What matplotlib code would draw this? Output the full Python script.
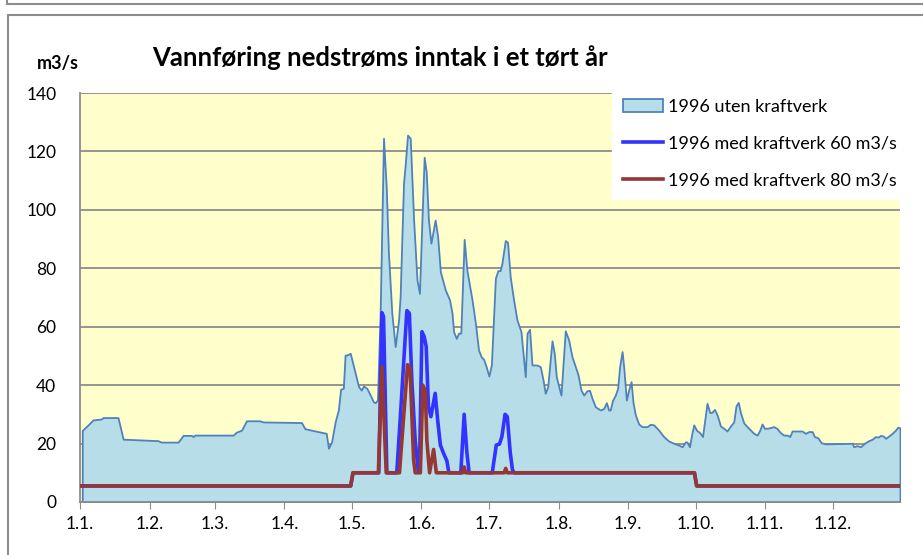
import matplotlib.pyplot as plt
from matplotlib.patches import Rectangle
from matplotlib.lines import Line2D

# day of year (0 = 1. jan 1996) and flow in m3/s
nat_days = [1, 3.6, 5.8, 9.5, 10.2, 16.9, 17.7, 19.2, 34.7, 36.2, 43.7, 45.9, 49.6, 50.3, 51.1,
            68.2, 69.6, 71.9, 74.1, 80, 81.5, 98.6, 100.1, 103, 108.4, 109.6, 110.6, 112, 113.6,
            115, 116, 117.2, 118, 118.8, 120.3, 122.5, 124, 125.2, 126.2, 127.7, 129.2, 130.6,
            131.4, 132.4, 133.6, 135.1, 136.3, 137.3, 138.8, 140.3, 141.8, 142.5, 144, 144.8,
            145.8, 147, 148.5, 150, 151.1, 152.2, 153.2, 154.1, 155.1, 156.2, 158.1, 159.2,
            160.4, 162.6, 164.5, 165.6, 166.3, 167.5, 168.5, 169.5, 171, 172.2, 174.5, 176,
            177.4, 178.6, 179.7, 180.8, 182, 183.1, 184.9, 186, 187, 187.8, 189.3, 190.3, 191.5,
            193, 194.5, 196.3, 197.2, 198.2, 199, 200.1, 201.2, 203.4, 204.9, 206.1, 207.1,
            208.2, 210.1, 211.1, 212, 213.1, 214.1, 216, 217.5, 219, 220.5, 221.7, 223, 224.2,
            225.7, 226.8, 227.9, 229.4, 231.6, 233.1, 234.3, 235.3, 236, 237.1, 238.3, 239.3,
            240.2, 241.3, 242, 243.2, 244.2, 245.3, 246.2, 247.2, 248.7, 250.2, 252.4, 253.9,
            255.4, 257.6, 259.8, 262, 264.3, 266.5, 268, 269.5, 270.2, 271.3, 272.2, 273.2,
            274.4, 275.9, 277.1, 279.1, 280.3, 281.3, 282.4, 283.6, 285.1, 286.6, 288, 289.5,
            291, 292, 293, 294, 295.5, 297.7, 299.9, 301.4, 302.6, 303.6, 304.7, 306.4, 308.8,
            310.2, 311.8, 313.3, 314.8, 315.9, 317, 321.4, 322.9, 324.4, 325.9, 326.9, 328.4,
            329.9, 331.8, 343.7, 344.4, 345.9, 347.4, 349.2, 351.1, 352.6, 354.1, 355.3, 356.3,
            357.5, 358.6, 360, 361.5, 363, 364, 365]
nat_flow = [24.5, 26.4, 28.1, 28.4, 28.9, 28.9, 26.4, 21.5, 21.0, 20.5, 20.5, 22.8, 22.8, 22.4, 22.9,
            22.9, 23.9, 24.6, 27.8, 27.8, 27.4, 27.2, 25.1, 24.6, 23.7, 23.5, 18.4, 20.6, 27.5,
            31.5, 38.6, 38.9, 50.3, 50.3, 50.9, 44.1, 39.5, 38.3, 39.7, 38.9, 36.6, 34.3,
            34.0, 34.9, 64.6, 124.5, 108, 85.1, 64.6, 53.2, 62.3, 70.3, 109, 116,
            125.6, 124.5, 96.5, 76, 71.4, 96.5, 118, 113.1, 96.5, 88.6, 96.5, 90.8,
            78.8, 72.6, 69.2, 64.6, 58.3, 56, 57.8, 57.8, 89.9, 79.4, 69.2, 61.2,
            52.0, 49.7, 48.8, 46.3, 43.1, 46.9, 76.6, 79.2, 79.2, 81.7, 89.5, 88.9, 77.1,
            69.2, 62.3, 58.3, 50.9, 42.9, 57.8, 59.1, 46.9, 46.9, 46.3, 41.8, 37.2,
            39.5, 55.2, 50.9, 42.9, 39.5, 36.6, 58.6, 55.5, 49.7, 46.3, 43.5, 38.3, 36.6,
            38.1, 38.2, 35.5, 32.6, 31.5, 32.0, 34.0, 31.5, 31.5, 34.9, 36.6, 38.9,
            46.3, 51.5, 46.3, 34.9, 38.3, 41.2, 33.8, 29.8, 26.7, 25.8, 25.8, 26.6,
            26.4, 24.6, 22.4, 20.9, 20.1, 19.5, 18.9, 20.6, 20.5, 18.9, 22.9, 26.4,
            24.6, 23.7, 22.4, 33.8, 30.6, 30.7, 31.7, 29.8, 26, 25.2, 24.3, 26,
            27.4, 32.9, 34.1, 30.5, 27, 25.2, 23.5, 22.9, 24.6, 26.7, 25.2, 25.3, 25.8,
            25.2, 23.7, 22.9, 22.9, 22.4, 24.3, 24.3, 23.5, 24.1, 24.1, 22.4, 22,
            20.3, 19.9, 20.1, 18.9, 19.3, 18.9, 20.1, 21, 21.5, 22.4, 22.2, 22.8,
            22.6, 21.8, 22.6, 23.5, 24.6, 25.6, 25.4]

q60_days = [0, 120.5, 121.5, 133, 134.4, 135.1, 136.6, 141, 142.5, 145.5, 146.6, 147.7, 149.2,
            150.5, 151.1, 152.2, 153.2, 154.1, 155.1, 156.2, 158.1, 159.2, 160.4, 161.8, 163.3,
            164.2, 169.5, 171, 172.2, 173.2, 183.5, 185.3, 186.7, 187.8, 189.2, 190.2, 191.5,
            192.5, 193.3, 273.5, 274.5, 365]
q60_flow = [5.5, 5.5, 10, 10, 64.8, 63.5, 10, 10, 28, 65.5, 64.6, 41.8, 21.2,
            11, 11.5, 58.3, 56.6, 53.2, 32.6, 29.2, 37.2, 28.1, 19.5, 16.7, 14.1,
            10, 10, 30, 17, 10, 10, 19.5, 19.8, 22.4, 30, 29.2, 17,
            11, 10, 10, 5.5, 5.5]

q80_days = [0, 120.5, 121.5, 132.8, 134.4, 136.3, 142.2, 145.8, 146.9, 148.5, 149.2, 151.5, 152.6,
            153.7, 154.4, 155.6, 157.4, 158.6, 170.3, 171, 171.7, 188.8, 189.5, 190.2, 273.5,
            274.5, 365]
q80_flow = [5.5, 5.5, 10, 10, 46.3, 10, 10, 47, 46, 14.4, 10, 10, 40,
            38, 21, 10, 18, 10, 10, 12, 10, 10, 11.5, 10, 10,
            5.5, 5.5]

month_days = [0, 31, 60, 91, 121, 152, 182, 213, 244, 274, 305, 335]
month_labels = ['1.1.', '1.2.', '1.3.', '1.4.', '1.5.', '1.6.', '1.7.', '1.8.', '1.9.', '1.10.', '1.11.', '1.12.']

plt.rcParams['font.family'] = ['Lato', 'DejaVu Sans']
grey = '#8c8c8c'

fig = plt.figure(figsize=(9.23, 5.55), dpi=100)
# frames around the chart
fig.add_artist(Rectangle((8 / 923, -0.1), 1.2, (555 - 15) / 555 + 0.1, transform=fig.transFigure,
                         fill=False, edgecolor=grey, linewidth=1.5))
fig.add_artist(Line2D([7 / 923, 1.1], [1 - 4 / 555, 1 - 4 / 555], transform=fig.transFigure,
                      color=grey, linewidth=1.5))
fig.add_artist(Line2D([7 / 923, 7 / 923], [1 - 4 / 555, 1.1], transform=fig.transFigure,
                      color=grey, linewidth=1.5))

ax = fig.add_axes([80 / 923, 53 / 555, 820 / 923, 409 / 555])
ax.set_facecolor('#ffffcc')

ax.fill_between(nat_days, nat_flow, 0, facecolor='#b7dee8', edgecolor='#4f81bd', linewidth=1.3,
                label='1996 uten kraftverk', zorder=2)
ax.plot(q60_days, q60_flow, color='#3333ff', linewidth=2.6, label='1996 med kraftverk 60 m3/s', zorder=3)
ax.plot(q80_days, q80_flow, color='#953735', linewidth=2.6, label='1996 med kraftverk 80 m3/s', zorder=4)

ax.set_xlim(0, 365)
ax.set_ylim(0, 140)
ax.set_yticks(range(0, 141, 20))
ax.set_xticks(month_days)
ax.set_xticklabels(month_labels)
ax.yaxis.grid(True, color=grey, linewidth=1.3)
ax.set_axisbelow(True)
ax.tick_params(axis='y', length=0, pad=17, labelsize=12.5)
ax.tick_params(axis='x', length=5, color=grey, pad=5, labelsize=12.5)
for s in ['top', 'right']:
    ax.spines[s].set_visible(False)
for s in ['left', 'bottom']:
    ax.spines[s].set_color(grey)
    ax.spines[s].set_linewidth(1.3)

leg = ax.legend(loc='upper right', bbox_to_anchor=(1.0098, 1.012), frameon=True, fancybox=False,
                edgecolor='white', facecolor='white', framealpha=1, fontsize=13,
                handlelength=2.2, handletextpad=0.3, labelspacing=1.15, borderpad=0.6,
                borderaxespad=0)

fig.text(380 / 923, 1 - 58 / 555, 'Vannføring nedstrøms inntak i et tørt år', ha='center', va='center',
         fontsize=18.5, fontweight='bold')
fig.text(58 / 923, 1 - 63 / 555, 'm3/s', ha='center', va='center', fontsize=13, fontweight='bold')

plt.savefig('out.png', dpi=100)
